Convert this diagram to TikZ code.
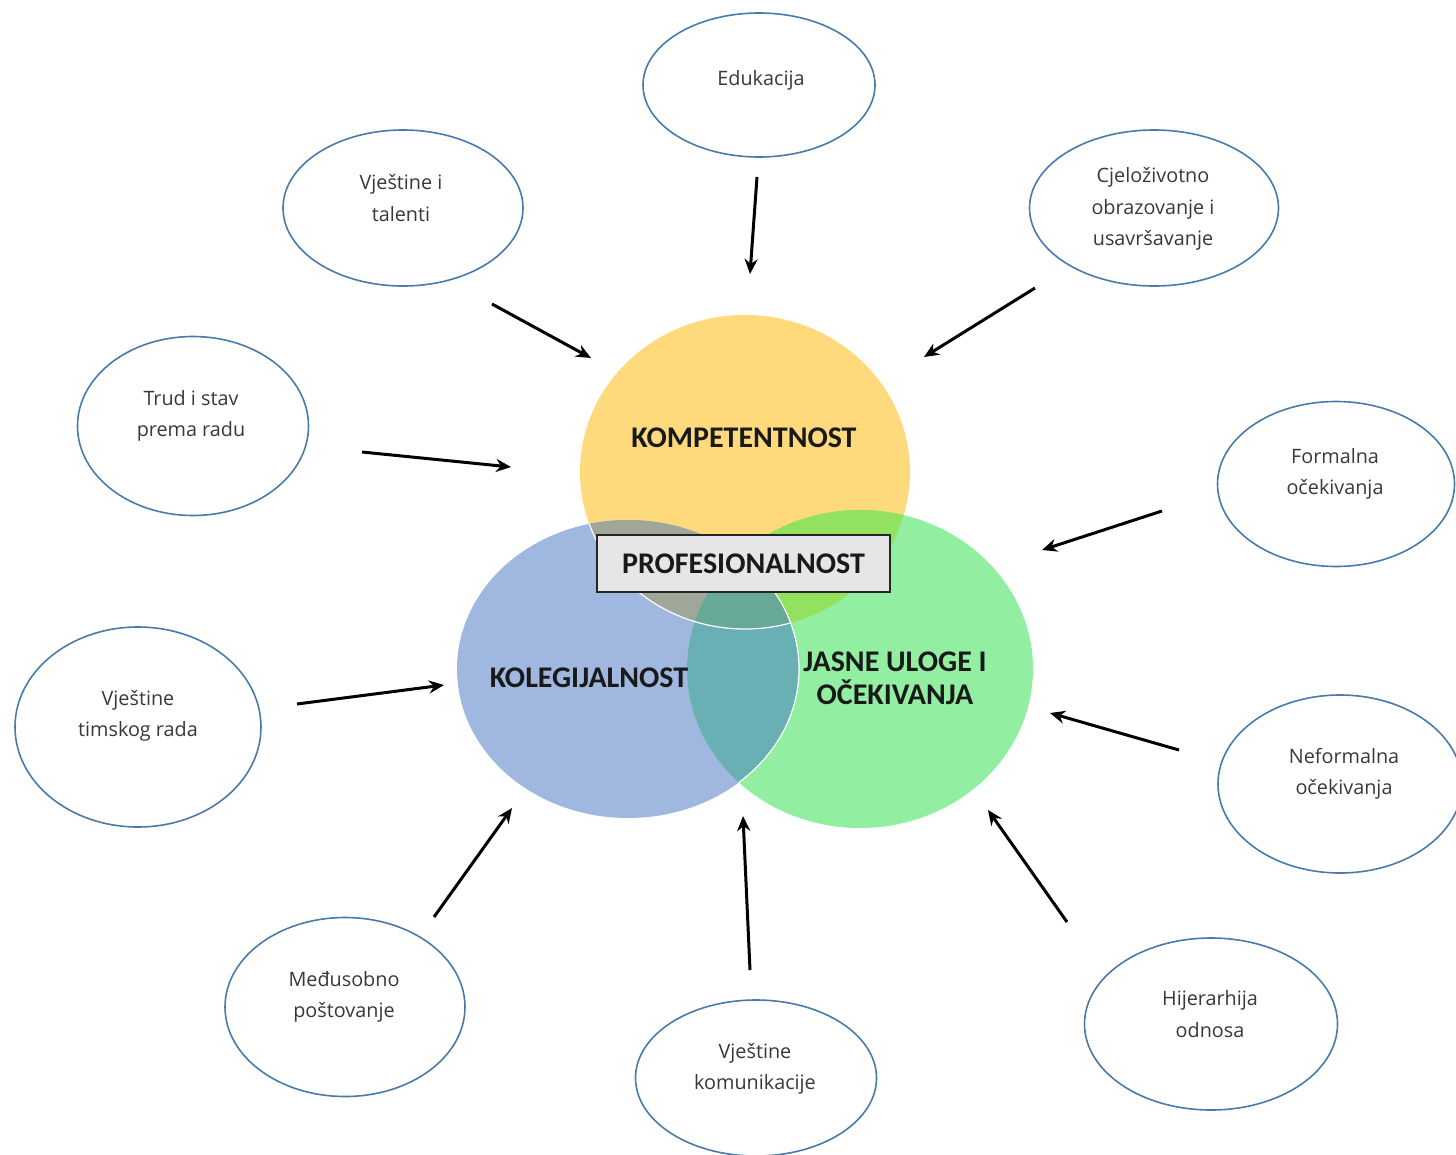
\documentclass[tikz,border=0pt]{standalone}
\usepackage{fontspec}
\setmainfont{Open Sans}
\newfontfamily\boldfam{Carlito}
\usetikzlibrary{shapes.geometric,arrows.meta}
\definecolor{cyel}{HTML}{FFDA7C}
\definecolor{cblu}{HTML}{A0B7E0}
\definecolor{cgrn}{HTML}{92EEA0}
\definecolor{cyb}{HTML}{A0A698}
\definecolor{cyg}{HTML}{92E15F}
\definecolor{cbg}{HTML}{69B0B4}
\definecolor{cybg}{HTML}{68A896}
\definecolor{cedge}{HTML}{4A7AAA}
\definecolor{ctxt}{HTML}{383838}
\definecolor{cbox}{HTML}{E6E6E6}
\tikzset{
  bub/.style={ellipse, draw=cedge, line width=1.6pt, inner sep=0pt},
  btxt/.style={font=\fontsize{19.8}{31.5}\selectfont, text=ctxt, align=center, inner sep=0pt},
  bigtxt/.style={font=\boldfam\bfseries\fontsize{30}{33}\selectfont, text=black!90, align=center, inner sep=0pt},
  arr/.style={-{Stealth[length=15pt,width=13pt]}, line width=3pt, black}
}
\begin{document}
\begin{tikzpicture}[x=1pt,y=-1pt]
\useasboundingbox (0,0) rectangle (1456,1154);
% Venn circles
\def\yel{(745,472) ellipse [x radius=165, y radius=157]}
\def\blu{(628,669) ellipse [x radius=171, y radius=149]}
\def\grn{(860,669) ellipse [x radius=173, y radius=159]}
\fill[cyel] \yel;
\fill[cblu] \blu;
\fill[cgrn] \grn;
\begin{scope}\clip \yel; \fill[cyb] \blu; \end{scope}
\begin{scope}\clip \yel; \fill[cyg] \grn; \end{scope}
\begin{scope}\clip \blu; \fill[cbg] \grn; \end{scope}
\begin{scope}\clip \yel; \clip \blu; \fill[cybg] \grn; \end{scope}
\begin{scope}\clip \grn; \draw[white, line width=1.2pt] \blu; \end{scope}
\begin{scope}\clip \blu; \draw[white, line width=1.2pt] \yel; \end{scope}
\node[bigtxt] (komp) at (744,438) {KOMPETENTNOST};
\node[bigtxt] (kol) at (589,678) {KOLEGIJALNOST};
\node[bigtxt] (jas) at (895,678) {JASNE ULOGE I\\OČEKIVANJA};
\node[draw=black!85, line width=2pt, fill=cbox, minimum width=293, minimum height=57, inner sep=0pt, bigtxt] (prof) at (743.5,563.5) {PROFESIONALNOST};
% bubbles
\node[bub, minimum width=232, minimum height=144] (edu) at (759,85) {};
\node[btxt] (edut) at (761,80) {Edukacija};
\node[bub, minimum width=240, minimum height=156] (vje) at (403,208) {};
\node[btxt] (vjet) at (401,198) {Vještine i\\talenti};
\node[bub, minimum width=249, minimum height=156] (cje) at (1154,208) {};
\node[btxt] (cjet) at (1153,209) {Cjeloživotno\\obrazovanje i\\usavršavanje};
\node[bub, minimum width=231, minimum height=179] (tru) at (193,426) {};
\node[btxt] (trut) at (191,416) {Trud i stav\\prema radu};
\node[bub, minimum width=237, minimum height=165] (for) at (1336,484) {};
\node[btxt] (fort) at (1335,474) {Formalna\\očekivanja};
\node[bub, minimum width=246, minimum height=200] (tim) at (138,727) {};
\node[btxt] (timt) at (138,716) {Vještine\\timskog rada};
\node[bub, minimum width=244, minimum height=178] (nef) at (1340,784) {};
\node[btxt] (neft) at (1344,774) {Neformalna\\očekivanja};
\node[bub, minimum width=240, minimum height=179] (med) at (345,1007) {};
\node[btxt] (medt) at (344,997) {Međusobno\\poštovanje};
\node[bub, minimum width=241, minimum height=156] (kom) at (756,1078) {};
\node[btxt] (komt) at (755,1069) {Vještine\\komunikacije};
\node[bub, minimum width=253, minimum height=172] (hij) at (1211,1024) {};
\node[btxt] (hijt) at (1210,1014) {Hijerarhija\\odnosa};
% arrow ends
\coordinate (a1s) at (757,177); \coordinate (a1e) at (750,274);
\coordinate (a2s) at (492,304); \coordinate (a2e) at (591,358);
\coordinate (a3s) at (1035,288); \coordinate (a3e) at (924,357);
\coordinate (a4s) at (362,452); \coordinate (a4e) at (511,467);
\coordinate (a5s) at (1162,511); \coordinate (a5e) at (1042,550);
\coordinate (a6s) at (297,704); \coordinate (a6e) at (444,685);
\coordinate (a7s) at (1179,750); \coordinate (a7e) at (1050,713);
\coordinate (a8s) at (434,917); \coordinate (a8e) at (512,808);
\coordinate (a9s) at (750,970); \coordinate (a9e) at (743,816);
\coordinate (a10s) at (1067,922); \coordinate (a10e) at (988,810);
\foreach \i in {1,...,10} \draw[arr] (a\i s) -- (a\i e);
\end{tikzpicture}
\end{document}
